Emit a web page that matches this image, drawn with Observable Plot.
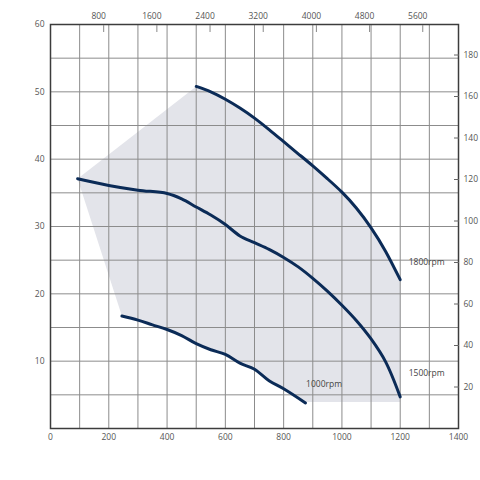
<!DOCTYPE html>
<html><head><meta charset="utf-8">
<script src="https://cdn.jsdelivr.net/npm/d3@7"></script>
<script src="https://cdn.jsdelivr.net/npm/@observablehq/plot@0.6"></script>
<style>body{margin:0;background:#fff}</style>
</head><body><div id="chart"></div>
<script>
// Airflow (bottom axis) and pressure (left axis)
const rpm1800X = [500, 550, 600, 650, 700, 750, 800, 850, 900, 950, 1000, 1050, 1100, 1150, 1200];
const rpm1800Y = [50.8, 50.0, 48.9, 47.6, 46.1, 44.4, 42.6, 40.8, 39.0, 37.1, 35.1, 32.7, 29.8, 26.3, 22.1];
const rpm1500X = [93, 200, 300, 400, 450, 500, 550, 600, 650, 700, 750, 800, 850, 900, 950, 1000, 1050, 1100, 1150, 1200];
const rpm1500Y = [37.1, 36.1, 35.4, 34.9, 34.1, 32.9, 31.7, 30.3, 28.6, 27.6, 26.6, 25.4, 24.0, 22.3, 20.4, 18.3, 16.0, 13.3, 9.9, 4.7];
const rpm1000X = [245, 300, 350, 400, 450, 500, 550, 600, 650, 700, 750, 800, 875];
const rpm1000Y = [16.7, 16.1, 15.4, 14.7, 13.8, 12.6, 11.7, 11.0, 9.7, 8.8, 7.1, 5.9, 3.8];
const shadeFloor = 3.95;

const curveNames = ["1800rpm", "1500rpm", "1000rpm"];
const labelX = [1229, 1229, 877];
const labelY = [24.7, 8.2, 6.5];

const xTicks = [0, 200, 400, 600, 800, 1000, 1200, 1400];
const xGrid = [100, 200, 300, 400, 500, 600, 700, 800, 900, 1000, 1100, 1200, 1300];
const yTicks = [10, 20, 30, 40, 50, 60];
const yGrid = [5, 10, 15, 20, 25, 30, 35, 40, 45, 50, 55];
const topTicks = [800, 1600, 2400, 3200, 4000, 4800, 5600];
const topRatio = 4.384;   // top axis units per bottom axis unit
const rightTicks = [20, 40, 60, 80, 100, 120, 140, 160, 180];
const rightRatio = 3.245; // right axis units per left axis unit

const toPts = (xs, ys, name) => xs.map((x, i) => ({x, y: ys[i], name}));
const c1800 = toPts(rpm1800X, rpm1800Y, "1800rpm");
const c1500 = toPts(rpm1500X, rpm1500Y, "1500rpm");
const c1000 = toPts(rpm1000X, rpm1000Y, "1000rpm");

// operating envelope
const shade = [
  c1500[0],
  ...c1800,
  {x: rpm1800X[rpm1800X.length - 1], y: shadeFloor},
  {x: rpm1000X[rpm1000X.length - 1], y: shadeFloor},
  ...c1000.slice().reverse()
];

const labels = curveNames.map((n, i) => ({name: n, x: labelX[i], y: labelY[i]}));
const lineOpts = {x: "x", y: "y", stroke: "#0b2b57", strokeWidth: 3, curve: "catmull-rom"};

const chart = Plot.plot({
  width: 480, height: 480,
  marginLeft: 50, marginRight: 22, marginTop: 24, marginBottom: 52,
  x: {domain: [0, 1400]},
  y: {domain: [0, 60]},
  style: {fontFamily: "'Open Sans', sans-serif", fontSize: "8.5px", color: "#555", background: "#fff"},
  marks: [
    Plot.line(shade, {x: "x", y: "y", fill: "#e3e4ea", stroke: null, curve: "linear"}),
    Plot.ruleX(xGrid, {stroke: "#8c8c8c", strokeWidth: 1}),
    Plot.ruleY(yGrid, {stroke: "#8c8c8c", strokeWidth: 1}),
    Plot.frame({stroke: "#3c3c3c", strokeWidth: 1.5}),
    Plot.line(c1800, {...lineOpts, curve: "natural"}),
    Plot.line(c1500, lineOpts),
    Plot.line(c1000, lineOpts),
    Plot.text(labels, {x: "x", y: "y", text: "name", textAnchor: "start", fill: "#444", fontSize: 8.5}),
    Plot.axisX(xTicks, {anchor: "bottom", tickSize: 0, tickPadding: 5, label: null, tickFormat: d => String(d)}),
    Plot.axisY(yTicks, {anchor: "left", tickSize: 0, tickPadding: 6, label: null}),
    Plot.axisX(topTicks.map(d => d / topRatio), {anchor: "top", tickSize: 0, tickPadding: 6, dx: -5, label: null,
      tickFormat: d => String(Math.round(d * topRatio))}),
    Plot.axisX(topTicks.map(d => d / topRatio), {anchor: "top", tickSize: -7, text: null, stroke: "#888", label: null}),
    Plot.axisY(rightTicks.map(d => d / rightRatio), {anchor: "right", tickSize: 0, tickPadding: 5, label: null,
      tickFormat: d => String(Math.round(d * rightRatio))}),
    Plot.axisY(rightTicks.map(d => d / rightRatio), {anchor: "right", tickSize: -5, text: null, stroke: "#666", label: null})
  ]
});
document.getElementById("chart").appendChild(chart);
</script>
</body></html>
